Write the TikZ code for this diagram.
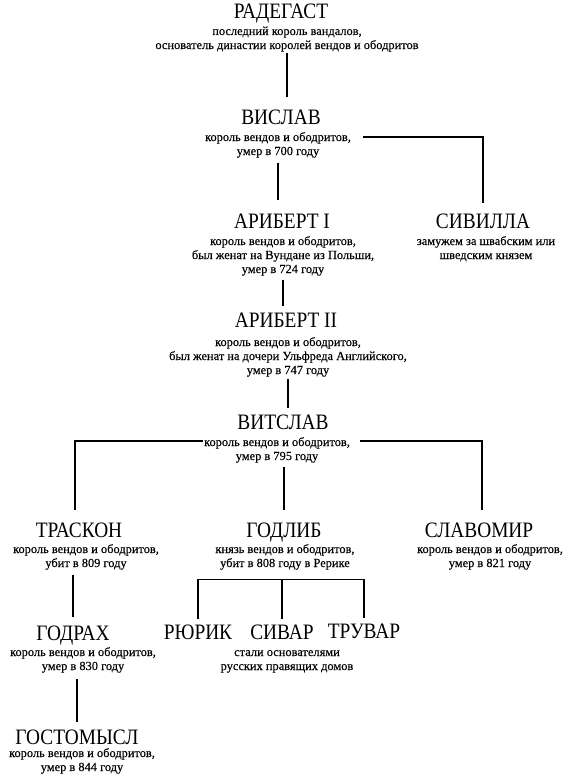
\documentclass[tikz,border=0pt]{standalone}
\usepackage{fontspec}
\setmainfont{Liberation Serif}
\newfontfamily\namefont[FakeStretch=0.88]{Liberation Serif}
\newfontfamily\descfont[FakeBold=0.3]{Liberation Serif}
\newcommand\dsc[1]{\begin{tabular}[t]{@{}c@{}}#1\end{tabular}}
\begin{document}
\begin{tikzpicture}[x=1pt,y=-1pt,
  nm/.style={font=\namefont\fontsize{22}{22}\selectfont, inner sep=0pt, anchor=base},
  ds/.style={font=\descfont\fontsize{12.4}{14}\selectfont, inner sep=0pt, anchor=base},
  link/.style={line width=1.2pt}]
\useasboundingbox (0,0) rectangle (576,776);

\node[nm] (radegast) at (281,19) {РАДЕГАСТ};
\node[ds] (radegast-d) at (287,35) {\dsc{последний король вандалов,\\основатель династии королей вендов и ободритов}};
\node[nm] (vislav) at (281,124) {ВИСЛАВ};
\node[ds] (vislav-d) at (278,141) {\dsc{король вендов и ободритов,\\умер в 700 году}};
\node[nm] (aribert1) at (282,228) {АРИБЕРТ I};
\node[ds] (aribert1-d) at (283,245) {\dsc{король вендов и ободритов,\\был женат на Вундане из Польши,\\умер в 724 году}};
\node[nm] (sivilla) at (483,228) {СИВИЛЛА};
\node[ds] (sivilla-d) at (486,245) {\dsc{замужем за швабским или\\шведским князем}};
\node[nm] (aribert2) at (286,327) {АРИБЕРТ II};
\node[ds] (aribert2-d) at (288,346) {\dsc{король вендов и ободритов,\\был женат на дочери Ульфреда Английского,\\умер в 747 году}};
\node[nm] (vitslav) at (283,429) {ВИТСЛАВ};
\node[ds] (vitslav-d) at (277,446) {\dsc{король вендов и ободритов,\\умер в 795 году}};
\node[nm] (traskon) at (79,537) {ТРАСКОН};
\node[ds] (traskon-d) at (86,553) {\dsc{король вендов и ободритов,\\убит в 809 году}};
\node[nm] (godlib) at (284,537) {ГОДЛИБ};
\node[ds] (godlib-d) at (285,553) {\dsc{князь вендов и ободритов,\\убит в 808 году в Рерике}};
\node[nm] (slavomir) at (479,537) {СЛАВОМИР};
\node[ds] (slavomir-d) at (490,553) {\dsc{король вендов и ободритов,\\умер в 821 году}};
\node[nm] (godrah) at (73,640) {ГОДРАХ};
\node[ds] (godrah-d) at (83,656) {\dsc{король вендов и ободритов,\\умер в 830 году}};
\node[nm] (rurik) at (198,639) {РЮРИК};
\node[nm] (sivar) at (282,639) {СИВАР};
\node[nm] (truvar) at (364,638) {ТРУВАР};
\node[ds] (brothers-d) at (287,656) {\dsc{стали основателями\\русских правящих домов}};
\node[nm] (gostomysl) at (77,744) {ГОСТОМЫСЛ};
\node[ds] (gostomysl-d) at (82,757) {\dsc{король вендов и ободритов,\\умер в 844 году}};

\draw[link, shorten >=12pt] (radegast-d.south) -- (radegast-d.south |- vislav.north);
\draw[link, shorten <=4pt, shorten >=13pt] (vislav-d.south) -- (vislav-d.south |- aribert1.north);
\draw[link, shorten >=10pt] ([xshift=12pt,yshift=4pt]vislav-d.base east) -| (sivilla.north);
\draw[link, shorten <=3pt, shorten >=6pt] (aribert1-d.south) -- (aribert1-d.south |- aribert2.north);
\draw[link, shorten <=1pt, shorten >=6pt] (aribert2-d.south) -- (aribert2-d.south |- vitslav.north);
\draw[link, shorten >=12pt] ([xshift=-1pt,yshift=5pt]vitslav-d.base west) -| ([xshift=-4pt]traskon.north);
\draw[link, shorten >=12pt] ([xshift=10pt,yshift=5pt]vitslav-d.base east) -| ([xshift=3pt]slavomir.north);
\draw[link, shorten <=3pt, shorten >=12pt] (godlib.north |- vitslav-d.south) -- (godlib.north);
\draw[link, shorten <=4pt, shorten >=8pt] (godrah.north |- traskon-d.south) -- (godrah.north);
\coordinate (fork) at ([yshift=-8pt]godlib-d.south);
\draw[link] (rurik.north |- fork) -- (truvar.north |- fork);
\foreach \n in {rurik,sivar,truvar}
  \draw[link, shorten >=5pt] (\n.north |- fork) -- (\n.north);
\draw[link, shorten <=5pt, shorten >=7pt] (gostomysl.north |- godrah-d.south) -- (gostomysl.north);
\end{tikzpicture}
\end{document}
